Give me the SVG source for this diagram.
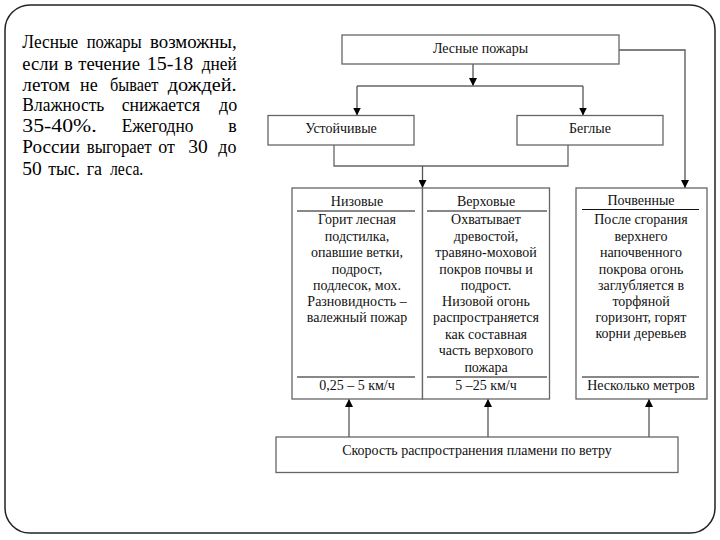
<svg xmlns="http://www.w3.org/2000/svg" width="720" height="540" viewBox="0 0 720 540" font-family="'Liberation Serif', 'DejaVu Serif', 'Times New Roman', serif">
<defs>
<marker id="ah" viewBox="0 0 8 8" refX="8" refY="4" markerWidth="8" markerHeight="8" markerUnits="userSpaceOnUse" orient="auto">
<path d="M0,0 L8,4 L0,8 Z" fill="#000"/>
</marker>
</defs>
<style>
.frame{fill:#fff;stroke:#222;stroke-width:1.5}
.box{fill:#fff;stroke:#666;stroke-width:1.3}
.rule{stroke:#111;stroke-width:1}
.con{fill:none;stroke:#666;stroke-width:1.3}
.arr{fill:none;stroke:#555;stroke-width:1.3;marker-end:url(#ah)}
.t{font-size:14px;fill:#111;text-anchor:middle}
.p text{font-size:18px;fill:#000}
.p text.n{font-size:19.5px}
</style>
<rect width="720" height="540" fill="#fff"/>
<path class="frame" d="M30,5 H690 A25,25 0 0 1 715,30 V508 A25,25 0 0 1 690,533 H30 A25,25 0 0 1 5,508 V30 A25,25 0 0 1 30,5 Z"/>

<g id="intro" class="p">
<g>
<text x="22.3" y="48.3" textLength="56" lengthAdjust="spacingAndGlyphs">Лесные</text>
<text x="86.7" y="48.3" textLength="55" lengthAdjust="spacingAndGlyphs">пожары</text>
<text x="150" y="48.3" textLength="86.7" lengthAdjust="spacingAndGlyphs">возможны,</text>
</g>
<g>
<text x="22.3" y="70" textLength="36" lengthAdjust="spacingAndGlyphs">если</text>
<text x="64.3" y="70">в</text>
<text x="78.3" y="70" textLength="61.7" lengthAdjust="spacingAndGlyphs">течение</text>
<text class="n" x="146.7" y="70" textLength="46.7" lengthAdjust="spacingAndGlyphs">15-18</text>
<text x="201.7" y="70" textLength="35" lengthAdjust="spacingAndGlyphs">дней</text>
</g>
<g>
<text x="22.3" y="90.7" textLength="47.7" lengthAdjust="spacingAndGlyphs">летом</text>
<text x="80" y="90.7">не</text>
<text x="110" y="90.7" textLength="48.3" lengthAdjust="spacingAndGlyphs">бывает</text>
<text x="167.7" y="90.7" textLength="69" lengthAdjust="spacingAndGlyphs">дождей.</text>
</g>
<g>
<text x="22.3" y="110.5" textLength="82" lengthAdjust="spacingAndGlyphs">Влажность</text>
<text x="121.7" y="110.5" textLength="78.3" lengthAdjust="spacingAndGlyphs">снижается</text>
<text x="219" y="110.5">до</text>
</g>
<g>
<text class="n" x="22.3" y="131.7" textLength="74.3" lengthAdjust="spacingAndGlyphs">35-40%.</text>
<text x="121.7" y="131.7" textLength="71.7" lengthAdjust="spacingAndGlyphs">Ежегодно</text>
<text x="228.3" y="131.7">в</text>
</g>
<g>
<text x="22.3" y="153.3" textLength="57.7" lengthAdjust="spacingAndGlyphs">России</text>
<text x="86.7" y="153.3" textLength="65" lengthAdjust="spacingAndGlyphs">выгорает</text>
<text x="158.3" y="153.3">от</text>
<text class="n" x="188.3" y="153.3">30</text>
<text x="218.3" y="153.3">до</text>
</g>
<g>
<text class="n" x="22.3" y="175">50</text>
<text x="48.3" y="175" textLength="31.7" lengthAdjust="spacingAndGlyphs">тыс.</text>
<text x="86.7" y="175">га</text>
<text x="110" y="175" textLength="33.3" lengthAdjust="spacingAndGlyphs">леса.</text>
</g>
</g>

<g id="connectors">
<path class="arr" d="M473,64 V86"/>
<path class="con" d="M357,86 H583"/>
<path class="arr" d="M357,86 V115.5"/>
<path class="arr" d="M583,86 V115.5"/>
<path class="arr" d="M619,50 H685 V188"/>
<path class="con" d="M334,145 V166 H568 V145"/>
<path class="arr" d="M422.5,166 V188"/>
<path class="arr" d="M349,437 V399"/>
<path class="arr" d="M488,437 V399"/>
<path class="arr" d="M649,437 V399"/>
</g>

<g id="lesnye-pozhary">
<rect class="box" x="342" y="35" width="277" height="29"/>
<text class="t" x="480.5" y="53">Лесные пожары</text>
</g>

<g id="ustoichivye">
<rect class="box" x="268" y="115.5" width="146" height="29.5"/>
<text class="t" x="341" y="133">Устойчивые</text>
</g>

<g id="beglye">
<rect class="box" x="517" y="115.5" width="146" height="29.5"/>
<text class="t" x="590" y="133">Беглые</text>
</g>

<g id="nizovye">
<rect class="box" x="292" y="188" width="130.5" height="211"/>
<line class="rule" x1="297" y1="211" x2="415" y2="211"/>
<line class="rule" x1="297" y1="377" x2="415" y2="377"/>
<text class="t" x="357" y="205.5">Низовые</text>
<text class="t" x="357" y="224">Горит лесная</text>
<text class="t" x="357" y="240.5">подстилка,</text>
<text class="t" x="357" y="257">опавшие ветки,</text>
<text class="t" x="357" y="273.5">подрост,</text>
<text class="t" x="357" y="290">подлесок, мох.</text>
<text class="t" x="357" y="306">Разновидность –</text>
<text class="t" x="357" y="322">валежный пожар</text>
<text class="t" x="357" y="389.5">0,25 – 5 км/ч</text>
</g>

<g id="verkhovye">
<rect class="box" x="422.5" y="188" width="127" height="211"/>
<line class="rule" x1="427" y1="211" x2="547" y2="211"/>
<line class="rule" x1="427" y1="377" x2="547" y2="377"/>
<text class="t" x="486" y="205.5">Верховые</text>
<text class="t" x="486" y="224">Охватывает</text>
<text class="t" x="486" y="240.5">древостой,</text>
<text class="t" x="486" y="257">травяно-моховой</text>
<text class="t" x="486" y="273.5">покров почвы и</text>
<text class="t" x="486" y="290">подрост.</text>
<text class="t" x="486" y="306">Низовой огонь</text>
<text class="t" x="486" y="322">распространяется</text>
<text class="t" x="486" y="338.5">как составная</text>
<text class="t" x="486" y="355">часть верхового</text>
<text class="t" x="486" y="371.5">пожара</text>
<text class="t" x="486" y="389.5">5 –25 км/ч</text>
</g>

<g id="pochvennye">
<rect class="box" x="576" y="188" width="131" height="211"/>
<line class="rule" x1="582" y1="209.5" x2="699" y2="209.5"/>
<line class="rule" x1="582" y1="377" x2="699" y2="377"/>
<text class="t" x="641" y="205">Почвенные</text>
<text class="t" x="641" y="224">После сгорания</text>
<text class="t" x="641" y="240.5">верхнего</text>
<text class="t" x="641" y="257">напочвенного</text>
<text class="t" x="641" y="273.5">покрова огонь</text>
<text class="t" x="641" y="290">заглубляется в</text>
<text class="t" x="641" y="306">торфяной</text>
<text class="t" x="641" y="322">горизонт, горят</text>
<text class="t" x="641" y="338">корни деревьев</text>
<text class="t" x="641" y="389.5">Несколько метров</text>
</g>

<g id="skorost">
<rect class="box" x="276" y="437" width="402" height="35.5"/>
<text class="t" x="477" y="455">Скорость распространения пламени по ветру</text>
</g>
</svg>
